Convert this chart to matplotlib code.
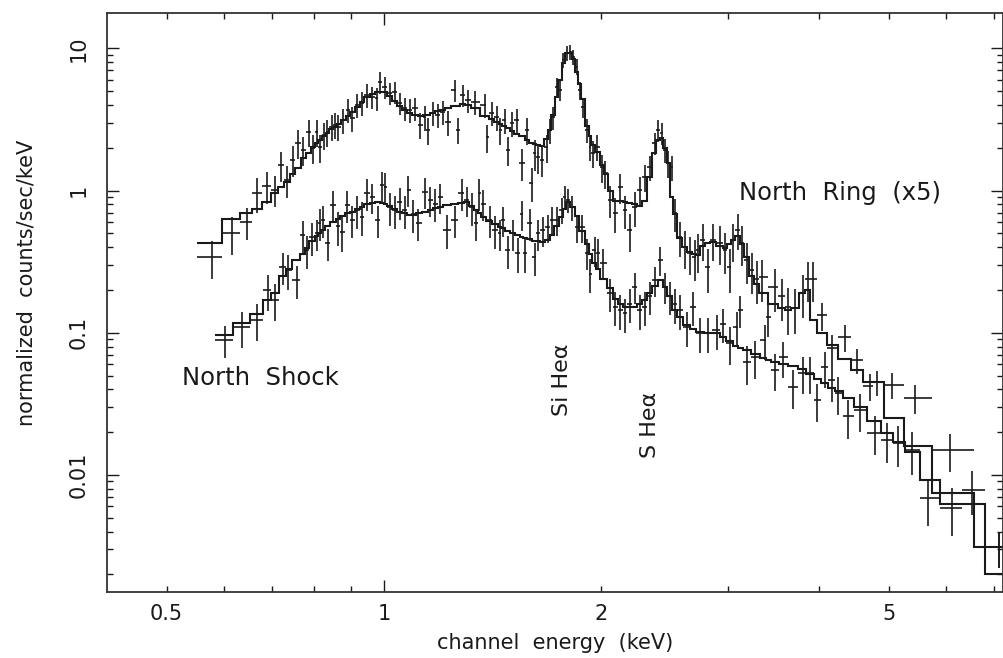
import numpy as np
import matplotlib.pyplot as plt
from matplotlib.ticker import LogLocator, NullFormatter

plt.rcParams.update({
    "font.family": "DejaVu Sans",
    "font.size": 15,
})

# --- North Ring (x5): bin centres (keV), rate, error, folded model ---
ring_energy = [
    0.578, 0.616, 0.646, 0.667, 0.689, 0.706, 0.721, 0.734, 0.748, 0.760,
    0.773, 0.787, 0.797, 0.807, 0.815, 0.826, 0.834, 0.847, 0.855, 0.864,
    0.878, 0.892, 0.903, 0.918, 0.932, 0.947, 0.963, 0.978, 0.987, 1.003,
    1.019, 1.036, 1.052, 1.069, 1.086, 1.104, 1.122, 1.140, 1.150, 1.169,
    1.188, 1.207, 1.226, 1.254, 1.266, 1.286, 1.307, 1.337, 1.380, 1.389,
    1.411, 1.434, 1.448, 1.470, 1.484, 1.504, 1.528, 1.553, 1.578, 1.603,
    1.618, 1.634, 1.655, 1.681, 1.698, 1.714, 1.736, 1.753, 1.770, 1.793,
    1.810, 1.828, 1.851, 1.868, 1.886, 1.911, 1.929, 1.946, 1.972, 2.005,
    2.024, 2.056, 2.090, 2.123, 2.157, 2.191, 2.226, 2.262, 2.298, 2.335,
    2.373, 2.396, 2.426, 2.450, 2.474, 2.505, 2.529, 2.570, 2.611, 2.653,
    2.696, 2.720, 2.763, 2.808, 2.853, 2.920, 2.967, 3.014, 3.043, 3.091,
    3.130, 3.180, 3.231, 3.283, 3.335, 3.479, 3.559, 3.627, 3.707, 3.801,
    3.861, 3.922, 4.037, 4.170, 4.349, 4.517, 4.705, 4.810, 5.061, 5.434,
    6.081, 7.10]
ring_rate = [
    0.340, 0.502, 0.60, 0.96, 1.075, 1.01, 1.51, 1.185, 1.64, 2.16,
    1.93, 2.58, 1.99, 2.58, 2.02, 2.46, 2.58, 2.80, 2.89, 2.80,
    3.13, 3.68, 3.23, 3.99, 4.12, 4.70, 4.54, 4.47, 5.79, 5.34,
    4.85, 4.93, 4.12, 3.80, 3.68, 3.80, 2.89, 3.28, 2.66, 3.51,
    3.40, 3.57, 3.03, 5.09, 2.66, 4.70, 4.33, 4.20, 4.00, 2.37,
    3.50, 3.28, 2.66, 3.13, 1.93, 2.98, 3.13, 1.56, 2.66, 1.13,
    1.83, 1.72, 1.64, 2.02, 2.66, 3.28, 5.34, 5.09, 8.27, 9.25,
    9.40, 8.66, 7.40, 5.09, 3.87, 2.66, 2.02, 1.83, 2.02, 1.46,
    1.32, 0.857, 0.694, 1.06, 0.729, 0.527, 0.765, 1.01, 1.24, 1.46,
    2.16, 2.66, 2.54, 1.93, 1.56, 1.46, 0.694, 0.47, 0.40, 0.364,
    0.34, 0.38, 0.45, 0.29, 0.45, 0.43, 0.38, 0.29, 0.45, 0.53,
    0.43, 0.324, 0.276, 0.24, 0.245, 0.21, 0.18, 0.152, 0.15, 0.19,
    0.24, 0.24, 0.133, 0.0783, 0.093, 0.064, 0.042, 0.045, 0.043, 0.035,
    0.015, 0.0031]
ring_err = [
    0.10, 0.15, 0.15, 0.27, 0.27, 0.25, 0.37, 0.30, 0.40, 0.50,
    0.45, 0.57, 0.45, 0.57, 0.45, 0.52, 0.55, 0.57, 0.60, 0.57,
    0.63, 0.72, 0.65, 0.75, 0.78, 0.87, 0.82, 0.82, 1.00, 0.93,
    0.87, 0.87, 0.75, 0.70, 0.69, 0.70, 0.60, 0.65, 0.57, 0.67,
    0.66, 0.67, 0.60, 0.90, 0.55, 0.84, 0.80, 0.78, 0.75, 0.52,
    0.67, 0.65, 0.57, 0.63, 0.45, 0.60, 0.63, 0.39, 0.57, 0.30,
    0.45, 0.42, 0.40, 0.45, 0.52, 0.60, 0.82, 0.82, 1.05, 1.10,
    1.10, 1.05, 0.95, 0.75, 0.63, 0.50, 0.42, 0.39, 0.42, 0.33,
    0.30, 0.22, 0.19, 0.25, 0.19, 0.16, 0.21, 0.24, 0.27, 0.30,
    0.39, 0.45, 0.45, 0.37, 0.33, 0.30, 0.18, 0.13, 0.12, 0.11,
    0.11, 0.115, 0.13, 0.10, 0.13, 0.13, 0.12, 0.10, 0.135, 0.15,
    0.135, 0.105, 0.09, 0.08, 0.08, 0.07, 0.06, 0.055, 0.052, 0.063,
    0.075, 0.075, 0.030, 0.018, 0.020, 0.013, 0.009, 0.009, 0.009, 0.008,
    0.0045, 0.0009]
ring_model = [
    0.427, 0.630, 0.694, 0.741, 0.830, 0.960, 1.06, 1.15, 1.30, 1.44,
    1.69, 1.85, 2.02, 2.15, 2.27, 2.40, 2.52, 2.72, 2.80, 2.93,
    3.12, 3.32, 3.55, 3.87, 4.17, 4.52, 4.75, 4.92, 4.95, 4.90,
    4.62, 4.25, 3.93, 3.70, 3.51, 3.40, 3.34, 3.38, 3.42, 3.50,
    3.60, 3.68, 3.78, 3.90, 3.95, 4.04, 4.02, 3.80, 3.36, 3.32,
    3.16, 3.02, 2.94, 2.82, 2.74, 2.62, 2.50, 2.40, 2.28, 2.17,
    2.13, 2.10, 2.06, 2.30, 2.66, 3.40, 4.54, 6.00, 7.88, 9.20,
    9.20, 8.40, 6.80, 5.60, 4.40, 2.85, 2.40, 2.10, 1.86, 1.50,
    1.30, 1.00, 0.85, 0.84, 0.83, 0.817, 0.80, 0.78, 0.85, 1.25,
    1.85, 2.25, 2.35, 2.00, 1.55, 0.90, 0.68, 0.463, 0.40, 0.369,
    0.355, 0.352, 0.41, 0.43, 0.435, 0.41, 0.394, 0.42, 0.45, 0.48,
    0.42, 0.34, 0.25, 0.22, 0.19, 0.16, 0.15, 0.145, 0.15, 0.19,
    0.20, 0.123, 0.10, 0.082, 0.065, 0.055, 0.045, 0.045, 0.025, 0.016,
    0.0075, 0.0031]
ring_first_lo = 0.551

# --- North Shock ---
shock_energy = [
    0.602, 0.636, 0.667, 0.691, 0.706, 0.725, 0.736, 0.758, 0.773, 0.782,
    0.795, 0.808, 0.815, 0.823, 0.836, 0.850, 0.864, 0.875, 0.889, 0.903,
    0.918, 0.932, 0.947, 0.963, 0.981, 0.994, 1.003, 1.019, 1.036, 1.052,
    1.069, 1.080, 1.097, 1.115, 1.140, 1.158, 1.177, 1.196, 1.222, 1.254,
    1.282, 1.303, 1.324, 1.340, 1.356, 1.371, 1.402, 1.425, 1.448, 1.461,
    1.484, 1.508, 1.533, 1.553, 1.567, 1.593, 1.618, 1.634, 1.660, 1.687,
    1.708, 1.736, 1.764, 1.781, 1.798, 1.822, 1.851, 1.880, 1.911, 1.929,
    1.959, 1.978, 2.011, 2.056, 2.090, 2.123, 2.157, 2.191, 2.226, 2.262,
    2.298, 2.335, 2.373, 2.412, 2.450, 2.489, 2.529, 2.570, 2.627, 2.676,
    2.739, 2.808, 2.890, 2.948, 3.014, 3.081, 3.112, 3.180, 3.263, 3.370,
    3.402, 3.479, 3.568, 3.684, 3.801, 3.891, 3.979, 4.081, 4.173, 4.254,
    4.391, 4.563, 4.786, 4.975, 5.150, 5.387, 5.669, 6.120, 6.520, 7.10]
shock_rate = [
    0.0889, 0.109, 0.123, 0.199, 0.170, 0.29, 0.276, 0.234, 0.486, 0.381,
    0.47, 0.50, 0.59, 0.62, 0.43, 0.79, 0.56, 0.51, 0.79, 0.62,
    0.73, 0.65, 0.96, 0.90, 0.62, 1.09, 1.06, 0.765, 0.73, 0.83,
    0.73, 1.01, 0.68, 0.59, 0.98, 0.857, 0.81, 0.90, 0.53, 0.62,
    0.96, 0.857, 0.765, 0.59, 0.96, 0.81, 0.62, 0.527, 0.50, 0.62,
    0.381, 0.50, 0.364, 0.68, 0.364, 0.59, 0.34, 0.50, 0.527, 0.55,
    0.62, 0.62, 0.73, 0.90, 0.857, 0.765, 0.55, 0.55, 0.364, 0.26,
    0.381, 0.364, 0.31, 0.19, 0.152, 0.145, 0.137, 0.16, 0.21, 0.145,
    0.152, 0.18, 0.234, 0.324, 0.21, 0.18, 0.16, 0.145, 0.11, 0.152,
    0.099, 0.099, 0.1045, 0.116, 0.0845, 0.11, 0.145, 0.0622, 0.067, 0.0889,
    0.129, 0.0547, 0.067, 0.0418, 0.0522, 0.0522, 0.0336, 0.057, 0.0465, 0.0376,
    0.0258, 0.0286, 0.0198, 0.0176, 0.0167, 0.0150, 0.0069, 0.0059, 0.0079, 0.0031]
shock_err = [
    0.022, 0.031, 0.035, 0.056, 0.050, 0.075, 0.075, 0.062, 0.125, 0.10,
    0.125, 0.125, 0.15, 0.16, 0.11, 0.20, 0.15, 0.14, 0.20, 0.16,
    0.19, 0.175, 0.24, 0.22, 0.16, 0.26, 0.26, 0.20, 0.19, 0.21,
    0.19, 0.25, 0.175, 0.15, 0.24, 0.21, 0.21, 0.22, 0.14, 0.16,
    0.24, 0.21, 0.20, 0.15, 0.24, 0.20, 0.16, 0.14, 0.125, 0.15,
    0.10, 0.125, 0.10, 0.16, 0.10, 0.15, 0.09, 0.125, 0.125, 0.125,
    0.14, 0.14, 0.15, 0.175, 0.16, 0.15, 0.125, 0.125, 0.09, 0.07,
    0.09, 0.09, 0.075, 0.05, 0.041, 0.04, 0.037, 0.042, 0.052, 0.04,
    0.041, 0.047, 0.056, 0.075, 0.052, 0.047, 0.044, 0.04, 0.031, 0.041,
    0.027, 0.027, 0.029, 0.031, 0.025, 0.03, 0.037, 0.019, 0.02, 0.025,
    0.035, 0.016, 0.019, 0.0125, 0.015, 0.015, 0.010, 0.016, 0.014, 0.011,
    0.008, 0.0087, 0.006, 0.0055, 0.0053, 0.005, 0.0025, 0.0022, 0.0027, 0.0009]
shock_model = [
    0.096, 0.117, 0.135, 0.170, 0.190, 0.250, 0.280, 0.324, 0.36, 0.394,
    0.44, 0.48, 0.50, 0.527, 0.56, 0.60, 0.63, 0.66, 0.69, 0.71,
    0.74, 0.76, 0.80, 0.82, 0.83, 0.82, 0.80, 0.78, 0.74, 0.706,
    0.69, 0.675, 0.675, 0.69, 0.71, 0.73, 0.75, 0.77, 0.79, 0.81,
    0.823, 0.83, 0.78, 0.73, 0.69, 0.65, 0.61, 0.58, 0.553, 0.545,
    0.52, 0.50, 0.483, 0.473, 0.466, 0.455, 0.445, 0.44, 0.435, 0.45,
    0.49, 0.56, 0.65, 0.74, 0.83, 0.76, 0.66, 0.52, 0.42, 0.36,
    0.31, 0.28, 0.24, 0.205, 0.172, 0.158, 0.151, 0.151, 0.151, 0.158,
    0.17, 0.19, 0.213, 0.234, 0.21, 0.18, 0.145, 0.13, 0.113, 0.107,
    0.101, 0.100, 0.0994, 0.094, 0.088, 0.081, 0.078, 0.075, 0.071, 0.066,
    0.064, 0.062, 0.060, 0.058, 0.056, 0.051, 0.047, 0.044, 0.041, 0.039,
    0.035, 0.030, 0.024, 0.0198, 0.017, 0.0146, 0.0092, 0.0062, 0.0062, 0.0020]
shock_first_lo = 0.583
last_hi = 7.7

x_major = [1]
x_major_labels = ["1"]
x_minor = [0.5, 0.6, 0.7, 0.8, 0.9, 2, 3, 4, 5, 6, 7]
x_minor_labels = ["0.5", "", "", "", "", "2", "", "", "5", "", ""]
y_major = [0.01, 0.1, 1, 10]
y_major_labels = ["0.01", "0.1", "1", "10"]

ink = "#1a1a1a"


def bin_edges(energy, first_lo, hi):
    e = np.asarray(energy)
    mids = np.sqrt(e[:-1] * e[1:])
    return np.concatenate([[first_lo], mids, [hi]])


fig = plt.figure(figsize=(10.04, 6.58), dpi=100)
ax = fig.add_axes([107 / 1004, 66.3 / 658, 896 / 1004, 579 / 658])
ax.set_xscale("log")
ax.set_yscale("log")

spectra = [
    (ring_energy, ring_rate, ring_err, ring_model, ring_first_lo),
    (shock_energy, shock_rate, shock_err, shock_model, shock_first_lo),
]
for energy, rate, err, model, lo in spectra:
    edges = bin_edges(energy, lo, last_hi)
    e = np.asarray(energy)
    ax.errorbar(e, rate, xerr=[e - edges[:-1], edges[1:] - e], yerr=err,
                fmt="none", ecolor=ink, elinewidth=1.2, capsize=0)
    ax.stairs(model, edges, baseline=None, color=ink, linewidth=1.5)

ax.set_xlim(0.4134, 7.20)
ax.set_ylim(0.00151, 17.8)

ax.set_xticks(x_major, x_major_labels)
ax.set_xticks(x_minor, x_minor_labels, minor=True)
ax.set_yticks(y_major, y_major_labels)
ax.yaxis.set_minor_locator(LogLocator(base=10, subs=np.arange(2, 10), numticks=20))
ax.yaxis.set_minor_formatter(NullFormatter())
for lab in ax.get_yticklabels():
    lab.set_rotation(90)
    lab.set_va("center")

ax.tick_params(which="both", direction="in", top=True, right=True,
               colors=ink, width=1.0, labelsize=15)
ax.tick_params(which="major", length=8.5)
ax.tick_params(which="minor", length=4.5)
ax.tick_params(axis="x", which="both", pad=9)
ax.tick_params(axis="y", which="both", pad=13)
for s in ax.spines.values():
    s.set_linewidth(1.3)
    s.set_color("#333333")

ax.set_xlabel("channel  energy  (keV)", color=ink, fontsize=15)
ax.xaxis.set_label_coords(0.5, -0.072)
ax.set_ylabel("normalized  counts/sec/keV", color=ink, fontsize=15)
ax.yaxis.set_label_coords(-0.079, 0.533)

ax.text(3.10, 0.857, "North  Ring  (x5)", ha="left", va="baseline",
        fontsize=17.5, color=ink)
ax.text(0.525, 0.0429, "North  Shock", ha="left", va="baseline",
        fontsize=17.5, color=ink)
ax.text(1.764, 0.0465, "Si Heα", rotation=90, ha="center", va="center",
        fontsize=16, color=ink)
ax.text(2.335, 0.0224, "S Heα", rotation=90, ha="center", va="center",
        fontsize=16, color=ink)

fig.savefig("out.png", dpi=100)
